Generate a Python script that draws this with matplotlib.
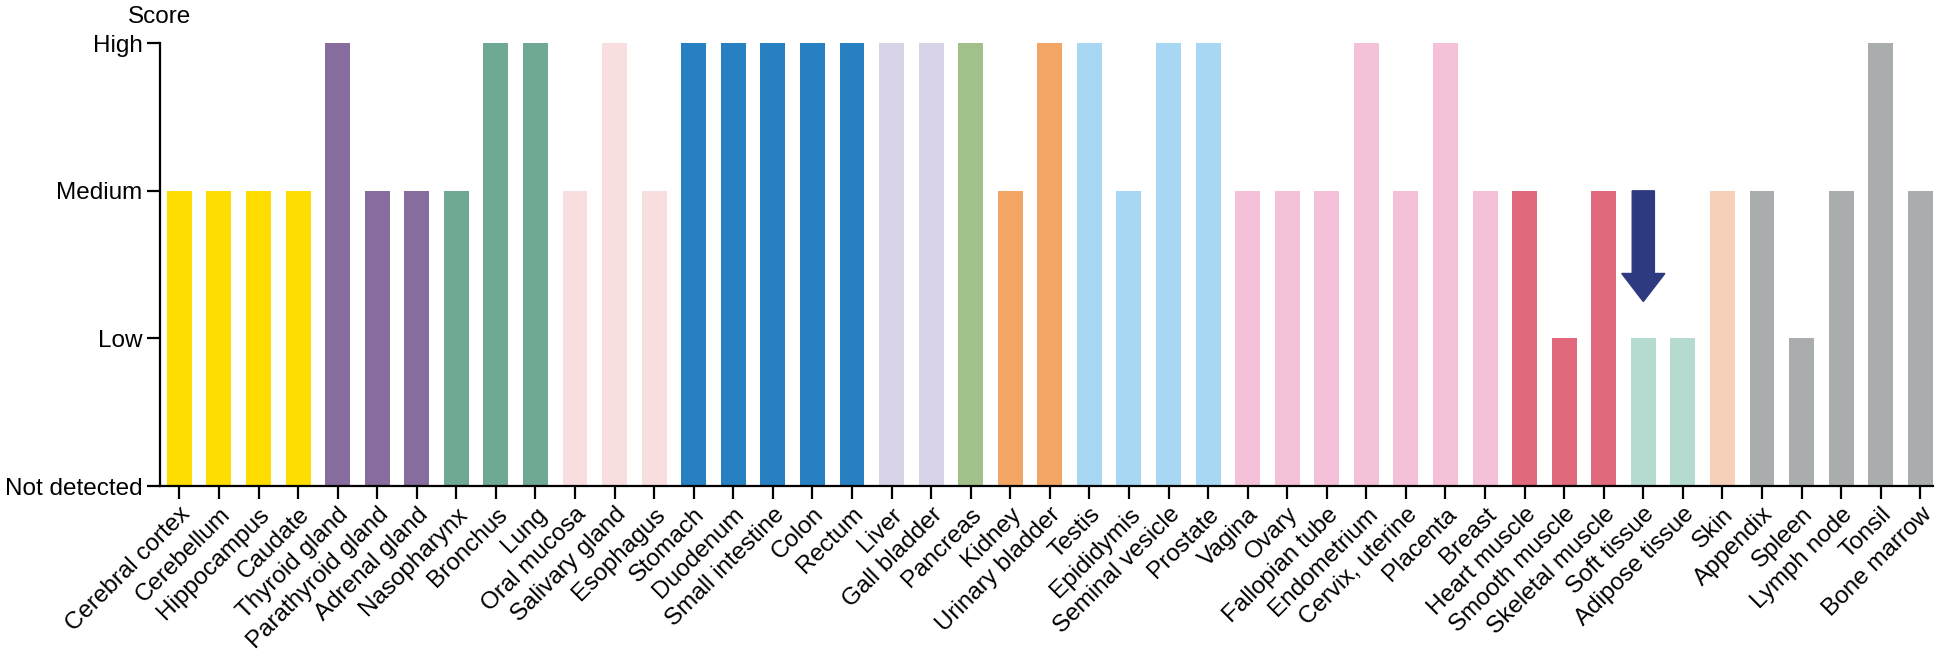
import numpy as np
import matplotlib.pyplot as plt

plt.rcParams['font.family'] = ['Liberation Sans', 'DejaVu Sans']

# tissues and expression score (0 = not detected, 3 = high)
tissues = ['Cerebral cortex', 'Cerebellum', 'Hippocampus', 'Caudate',
           'Thyroid gland', 'Parathyroid gland', 'Adrenal gland',
           'Nasopharynx', 'Bronchus', 'Lung',
           'Oral mucosa', 'Salivary gland', 'Esophagus',
           'Stomach', 'Duodenum', 'Small intestine', 'Colon', 'Rectum',
           'Liver', 'Gall bladder', 'Pancreas',
           'Kidney', 'Urinary bladder',
           'Testis', 'Epididymis', 'Seminal vesicle', 'Prostate',
           'Vagina', 'Ovary', 'Fallopian tube', 'Endometrium', 'Cervix, uterine', 'Placenta', 'Breast',
           'Heart muscle', 'Smooth muscle', 'Skeletal muscle',
           'Soft tissue', 'Adipose tissue', 'Skin',
           'Appendix', 'Spleen', 'Lymph node', 'Tonsil', 'Bone marrow']
scores = [2, 2, 2, 2,
          3, 2, 2,
          2, 3, 3,
          2, 3, 2,
          3, 3, 3, 3, 3,
          3, 3, 3,
          2, 3,
          3, 2, 3, 3,
          2, 2, 2, 3, 2, 3, 2,
          2, 1, 2,
          1, 1, 2,
          2, 1, 2, 3, 2]
group_sizes = [4, 3, 3, 3, 5, 2, 1, 2, 4, 7, 3, 2, 1, 5]
group_colors = ['#FFDD00', '#876C9E', '#6FA993', '#F9DEDF', '#2680C2', '#D9D3E8',
                '#A0C28A', '#F3A566', '#A8D7F3', '#F5C1D9', '#E06A7B', '#B5DBD1',
                '#F7D0BA', '#A9ADAE']
score_labels = ['Not detected', 'Low', 'Medium', 'High']

colors = []
for n, c in zip(group_sizes, group_colors):
    colors += [c] * n

fig = plt.figure(figsize=(19.44, 6.55), dpi=100)
ax = fig.add_axes([0.0823, 0.258, 0.912, 0.676])

x = np.arange(len(tissues))
ax.bar(x, scores, width=0.63, color=colors)

# arrow pointing at soft tissue
i = tissues.index('Soft tissue')
ax.arrow(i, 2, 0, -0.75, width=0.56, head_width=1.09, head_length=0.19,
         length_includes_head=True, color='#2E3A80', zorder=3)

ax.set_xlim(-0.49, len(tissues) - 1 + 0.32)
ax.set_ylim(0, 3)
ax.set_yticks(range(4))
ax.set_yticklabels(score_labels, fontsize=17.5)
ax.set_xticks(x)
ax.set_xticklabels(tissues, fontsize=17.5, rotation=45, ha='right', rotation_mode='anchor')

for s in ['top', 'right']:
    ax.spines[s].set_visible(False)
for s in ['left', 'bottom']:
    ax.spines[s].set_linewidth(1.6)
ax.tick_params(axis='both', length=9.5, width=1.6, pad=3)

ax.text(0.0, 1.035, 'Score', transform=ax.transAxes, ha='center', va='bottom', fontsize=17.5)

plt.savefig('out.png', dpi=100)
